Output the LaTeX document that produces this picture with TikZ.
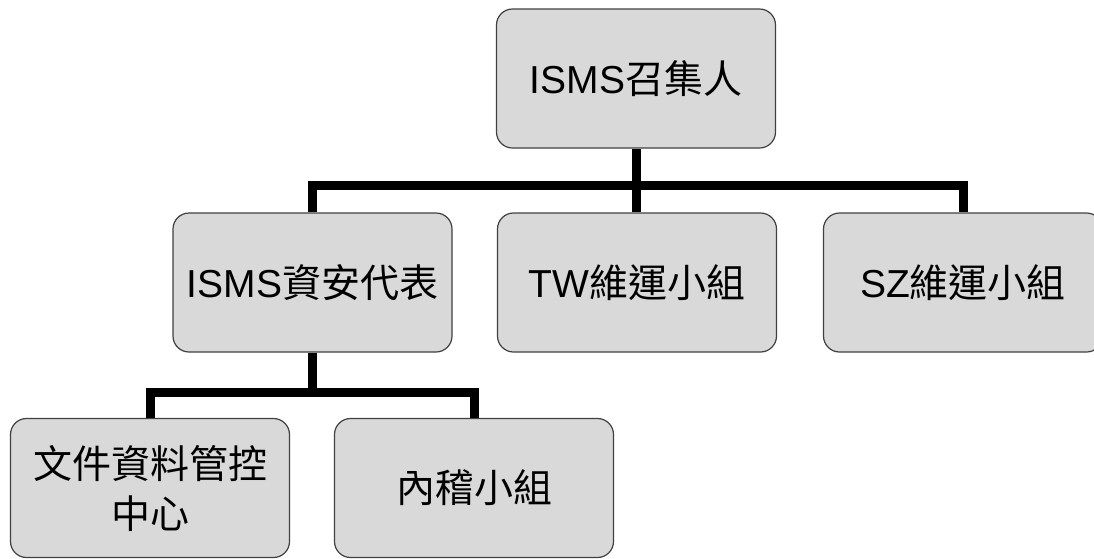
\documentclass[tikz,border=0pt]{standalone}
\usepackage{fontspec}
\setmainfont{Liberation Sans}
\newfontfamily\cjk{Noto Sans CJK TC}
\usetikzlibrary{positioning}

\begin{document}
\begin{tikzpicture}[x=1pt,y=-1pt,
    box/.style={draw=black!75,line width=1.2pt,fill=black!15,rounded corners=16pt,
      minimum width=279pt,minimum height=139pt,align=center,
      font=\fontsize{39}{50}\selectfont},
    conn/.style={line width=9pt}]
    \useasboundingbox (0,0) rectangle (1094,558);
    \clip (0,0) rectangle (1094,558);
    \node[box] (C) at (636,78.5) {ISMS{\cjk 召集人}};
    \node[box] (R) at (312.5,282.5) {ISMS{\cjk 資安代表}};
    \node[box] (TW) at (637,282.5) {TW{\cjk 維運小組}};
    \node[box] (SZ) at (963,282.5) {SZ{\cjk 維運小組}};
    \node[box] (D) at (150,488) {{\cjk 文件資料管控}\\{\cjk 中心}};
    \node[box] (A) at (474,488) {{\cjk 內稽小組}};
    \coordinate (B1) at (636,185);
    \coordinate (B2) at (312.5,392);
    \draw[conn] (C.south) -- (C.south |- TW.north);
    \draw[conn] (R.north) |- (B1) -| (SZ.north);
    \draw[conn] (R.south) -- (B2);
    \draw[conn] (D.north) |- (B2) -| (A.north);
  \end{tikzpicture}
\end{document}
